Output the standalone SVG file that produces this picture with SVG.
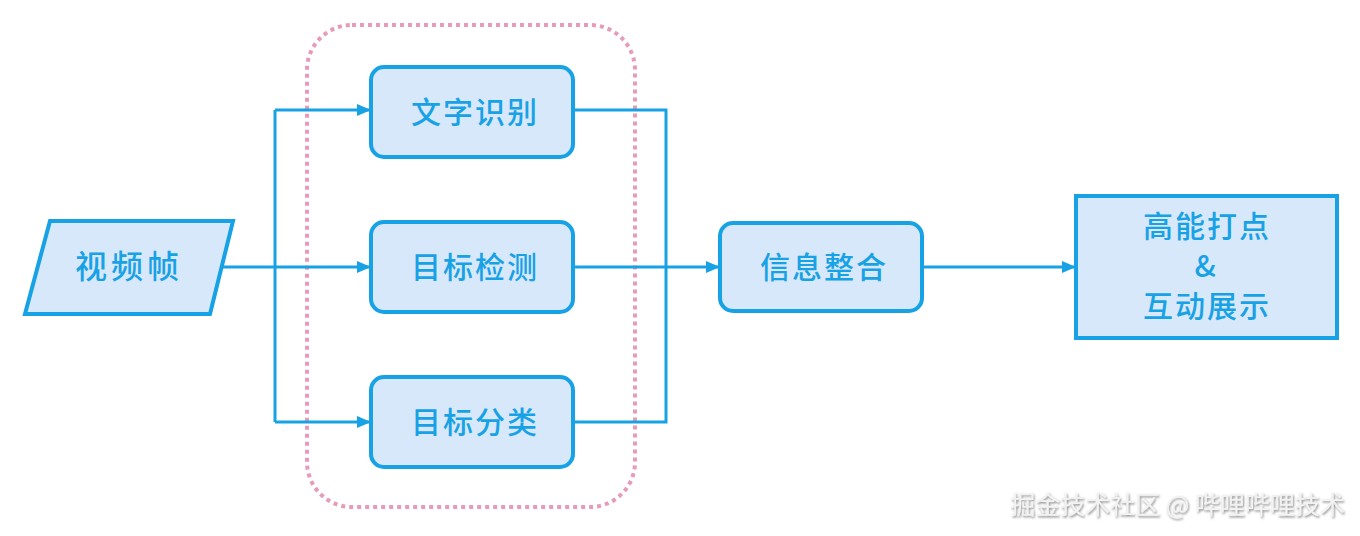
<svg xmlns="http://www.w3.org/2000/svg" width="1360" height="536" viewBox="0 0 1360 536">
<defs>
<marker id="arr" markerWidth="14" markerHeight="12" refX="13" refY="6" orient="auto" markerUnits="userSpaceOnUse">
<path d="M0,0 L14,6 L0,12 Z" fill="#17a2e6"/>
</marker>
<filter id="sh" x="-5%" y="-30%" width="110%" height="160%">
<feDropShadow dx="1" dy="1.5" stdDeviation="0.8" flood-color="#555" flood-opacity="0.7"/>
</filter>
</defs>
<style>
.node{fill:#d8e8fb;stroke:#17a2e6;stroke-width:4}
.lbl{font-family:"Noto Sans CJK SC","Noto Sans",sans-serif;font-size:30px;font-weight:500;fill:#17a2e6;text-anchor:middle;letter-spacing:2px}
.conn{fill:none;stroke:#17a2e6;stroke-width:3}
</style>
<rect width="1360" height="536" fill="#ffffff"/>
<rect id="group-box" x="307" y="25" width="328" height="482" rx="45" ry="45" fill="none" stroke="#e59bb9" stroke-width="4" stroke-dasharray="4 4"/>
<g id="connectors">
<path class="conn" d="M212,267 L370,267" marker-end="url(#arr)"/>
<path class="conn" d="M275,110 L275,422"/>
<path class="conn" d="M275,110 L370,110" marker-end="url(#arr)"/>
<path class="conn" d="M275,422 L370,422" marker-end="url(#arr)"/>
<path class="conn" d="M573,110 L666,110 L666,422 L573,422"/>
<path class="conn" d="M573,267 L719,267" marker-end="url(#arr)"/>
<path class="conn" d="M923,267 L1075,267" marker-end="url(#arr)"/>
</g>
<g id="node-video">
<polygon class="node" points="50,221 233,221 210,314 25,314"/>
<text class="lbl" x="129" y="278" style="font-size:32px;letter-spacing:4px">视频帧</text>
</g>
<g id="node-ocr">
<rect class="node" x="371" y="67" width="202" height="90" rx="13"/>
<text class="lbl" x="475" y="123">文字识别</text>
</g>
<g id="node-detect">
<rect class="node" x="371" y="222" width="202" height="90" rx="13"/>
<text class="lbl" x="475" y="278">目标检测</text>
</g>
<g id="node-classify">
<rect class="node" x="371" y="377" width="202" height="90" rx="13"/>
<text class="lbl" x="475" y="433">目标分类</text>
</g>
<g id="node-merge">
<rect class="node" x="720" y="223" width="202" height="88" rx="13"/>
<text class="lbl" x="824" y="278">信息整合</text>
</g>
<g id="node-show">
<rect class="node" x="1076" y="196" width="261" height="142"/>
<text class="lbl" x="1207" y="237">高能打点</text>
<text class="lbl" x="1206" y="277">&amp;</text>
<text class="lbl" x="1207" y="317">互动展示</text>
</g>
<text x="1345" y="514" text-anchor="end" font-family="Noto Sans CJK SC,Noto Sans,sans-serif" font-size="25" fill="#f2f2f2" filter="url(#sh)">掘金技术社区 @ 哔哩哔哩技术</text>
</svg>
